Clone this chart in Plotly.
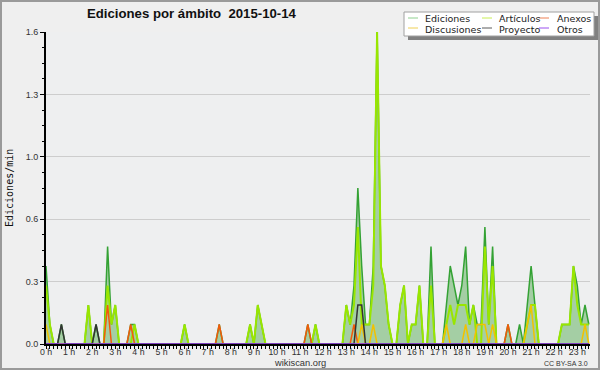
import plotly.graph_objects as go

# ---- data: edits per 10-minute bin, one row per hour (00:00 .. 23:30) ----
STEP_MIN = 10
ediciones_bins = [
    [4, 1, 0, 0, 1, 0], [0, 0, 0, 0, 0, 2], [0, 1, 0, 0, 5, 1], [2, 0, 0, 0, 1, 1],
    [0, 0, 0, 0, 0, 0], [0, 0, 0, 0, 0, 0], [1, 0, 0, 0, 0, 0], [0, 0, 0, 1, 0, 0],
    [0, 0, 0, 0, 0, 1], [0, 2, 1, 0, 0, 0], [0, 0, 0, 0, 0, 0], [0, 0, 1, 0, 1, 0],
    [0, 0, 0, 0, 0, 0], [2, 1, 3, 8, 4, 1], [1, 4, 16, 4, 3, 1], [0, 0, 2, 3, 0, 1],
    [1, 3, 0, 0, 5, 0], [0, 0, 2, 4, 3, 2], [3, 5, 1, 2, 1, 1], [6, 1, 5, 0, 0, 0],
    [1, 0, 0, 1, 0, 2], [4, 2, 0, 0, 0, 0], [0, 0, 1, 1, 1, 4], [3, 1, 2, 1],
]
articulos_bins = [
    [3, 1, 0, 0, 0, 0], [0, 0, 0, 0, 0, 2], [0, 0, 0, 0, 3, 1], [2, 0, 0, 0, 0, 1],
    [0, 0, 0, 0, 0, 0], [0, 0, 0, 0, 0, 0], [1, 0, 0, 0, 0, 0], [0, 0, 0, 0, 0, 0],
    [0, 0, 0, 0, 0, 1], [0, 2, 1, 0, 0, 0], [0, 0, 0, 0, 0, 0], [0, 0, 0, 0, 1, 0],
    [0, 0, 0, 0, 0, 0], [2, 1, 2, 6, 1, 1], [1, 3, 16, 4, 3, 1], [0, 0, 2, 3, 0, 1],
    [1, 3, 0, 0, 3, 0], [0, 0, 1, 2, 1, 2], [2, 2, 1, 2, 0, 0], [5, 1, 4, 0, 0, 0],
    [0, 0, 0, 0, 0, 1], [2, 2, 0, 0, 0, 0], [0, 0, 1, 1, 1, 4], [2, 1, 1, 1],
]
anexos_bins = [
    [0, 0, 0, 0, 0, 0], [0, 0, 0, 0, 0, 0], [0, 0, 0, 0, 2, 0], [0, 0, 0, 0, 1, 0],
    [0, 0, 0, 0, 0, 0], [0, 0, 0, 0, 0, 0], [0, 0, 0, 0, 0, 0], [0, 0, 0, 1, 0, 0],
    [0, 0, 0, 0, 0, 0], [0, 0, 0, 0, 0, 0], [0, 0, 0, 0, 0, 0], [0, 0, 1, 0, 0, 0],
    [0, 0, 0, 0, 0, 0], [0, 0, 1, 0, 0, 0], [0, 0, 0, 0, 0, 0], [0, 0, 0, 0, 0, 0],
    [0, 0, 0, 0, 0, 0], [0, 0, 0, 0, 0, 0], [0, 0, 0, 0, 0, 0], [0, 0, 0, 0, 0, 0],
    [1, 0, 0, 0, 0, 0], [0, 0, 0, 0, 0, 0], [0, 0, 0, 0, 0, 0], [0, 0, 0, 0],
]
discusiones_bins = [
    [1, 0, 0, 0, 0, 0], [0, 0, 0, 0, 0, 0], [0, 0, 0, 0, 0, 0], [0, 0, 0, 0, 0, 0],
    [0, 0, 0, 0, 0, 0], [0, 0, 0, 0, 0, 0], [0, 0, 0, 0, 0, 0], [0, 0, 0, 0, 0, 0],
    [0, 0, 0, 0, 0, 0], [0, 0, 0, 0, 0, 0], [0, 0, 0, 0, 0, 0], [0, 0, 0, 0, 0, 0],
    [0, 0, 0, 0, 0, 0], [0, 0, 0, 0, 1, 0], [0, 1, 0, 0, 0, 0], [0, 0, 0, 0, 0, 0],
    [0, 0, 0, 0, 0, 0], [0, 0, 1, 0, 0, 0], [0, 1, 0, 0, 1, 1], [1, 0, 1, 0, 0, 0],
    [0, 0, 0, 0, 0, 1], [2, 0, 0, 0, 0, 0], [0, 0, 0, 0, 0, 0], [0, 0, 1, 0],
]
proyecto_bins = [
    [0, 0, 0, 0, 1, 0], [0, 0, 0, 0, 0, 0], [0, 1, 0, 0, 0, 0], [0, 0, 0, 0, 0, 0],
    [0, 0, 0, 0, 0, 0], [0, 0, 0, 0, 0, 0], [0, 0, 0, 0, 0, 0], [0, 0, 0, 0, 0, 0],
    [0, 0, 0, 0, 0, 0], [0, 0, 0, 0, 0, 0], [0, 0, 0, 0, 0, 0], [0, 0, 0, 0, 0, 0],
    [0, 0, 0, 0, 0, 0], [0, 0, 0, 2, 2, 0], [0, 0, 0, 0, 0, 0], [0, 0, 0, 0, 0, 0],
    [0, 0, 0, 0, 0, 0], [0, 0, 0, 0, 0, 0], [0, 0, 0, 0, 0, 0], [0, 0, 0, 0, 0, 0],
    [0, 0, 0, 0, 0, 0], [0, 0, 0, 0, 0, 0], [0, 0, 0, 0, 0, 0], [0, 0, 0, 0],
]
otros_bins = [[0] * 6 for _ in range(23)] + [[0, 0, 0, 0]]

series_names = ["Ediciones", "Artículos", "Anexos", "Discusiones", "Proyecto", "Otros"]
line_colors = ["#34a234", "#99e600", "#f25a0a", "#f2c200", "#333333", "#8a3cf0"]
legend_colors = ["#8fd08f", "#c8ee55", "#ee8055", "#efd055", "#5a5a5a", "#9a50ee"]
y_tickvals = [0, 0.32, 0.64, 0.96, 1.28, 1.6]
y_ticktext = ["0.0", "0.3", "0.6", "1.0", "1.3", "1.6"]

def flat(rows):
    return [v for r in rows for v in r]

series_bins = [ediciones_bins, articulos_bins, anexos_bins,
               discusiones_bins, proyecto_bins, otros_bins]
series_rates = [[c / STEP_MIN for c in flat(s)] for s in series_bins]
n = len(series_rates[0])
x_hours = [i * STEP_MIN / 60 for i in range(n)]

W, H = 600, 370
L, R, T, B = 46, 10, 32, 26
PW, PH = W - L - R, H - T - B

def px(x):
    return (x - L) / PW

def py(y):
    return (H - B - y) / PH

fig = go.Figure()
for i, (name, ys) in enumerate(zip(series_names, series_rates)):
    kw = {}
    if i == 0:
        kw = dict(fill="tozeroy", fillcolor="rgba(150,200,150,0.85)")
    width = 2 if i == 1 else 1.5
    fig.add_trace(go.Scatter(
        x=x_hours, y=ys, mode="lines", name=name,
        line=dict(color=line_colors[i], width=width),
        showlegend=False, hoverinfo="skip", **kw))

fig.update_layout(
    width=W, height=H,
    margin=dict(l=L, r=R, t=T, b=B),
    paper_bgcolor="#efefef", plot_bgcolor="#eeeff0",
    font=dict(family="Liberation Sans, Arial, sans-serif", size=9, color="#333333"),
    xaxis=dict(
        range=[0, (n - 1) * STEP_MIN / 60 + 0.05],
        tick0=0, dtick=1, ticksuffix=" h",
        showline=True, linecolor="black", linewidth=2,
        ticks="outside", ticklen=3, tickcolor="black", tickwidth=1,
        showgrid=False, zeroline=False, ticklabelstandoff=-5,
        tickfont=dict(size=8.8, color="#333333"),
        minor=dict(dtick=STEP_MIN / 60, ticks="outside", ticklen=3,
                   tickcolor="black", tickwidth=1, showgrid=False),
    ),
    yaxis=dict(
        range=[0, 1.6],
        tickmode="array", tickvals=y_tickvals, ticktext=y_ticktext,
        showline=True, linecolor="black", linewidth=2,
        ticks="outside", ticklen=4, tickcolor="black", tickwidth=1,
        showgrid=True, gridcolor="#cdcdcd", gridwidth=1, zeroline=False,
        tickfont=dict(size=9, color="#333333"),
        minor=dict(tickvals=[k * 0.08 for k in range(21)], ticks="outside",
                   ticklen=2, tickcolor="black", tickwidth=1, showgrid=False),
    ),
)

shapes = []
annotations = []

# frame around the image
shapes.append(dict(type="rect", xref="paper", yref="paper",
                   x0=px(1), x1=px(599), y0=py(369), y1=py(1),
                   line=dict(color="#9a9a9a", width=2), fillcolor="rgba(0,0,0,0)",
                   layer="above"))

# legend box with shadow
lx0, lx1, ly0, ly1 = 404, 594, 12, 36
shapes.append(dict(type="rect", xref="paper", yref="paper",
                   x0=px(lx0 + 4), x1=px(lx1 + 4), y0=py(ly1 + 4), y1=py(ly0 + 4),
                   line=dict(width=0), fillcolor="#808080", layer="above"))
shapes.append(dict(type="rect", xref="paper", yref="paper",
                   x0=px(lx0), x1=px(lx1), y0=py(ly1), y1=py(ly0),
                   line=dict(color="#a0a0a0", width=1), fillcolor="white", layer="above"))
col_sample = [408, 482, 539]
col_text = [423, 497, 555]
row_y = [19, 29]
for i, name in enumerate(series_names):
    r, c = divmod(i, 3)
    shapes.append(dict(type="line", xref="paper", yref="paper",
                       x0=px(col_sample[c]), x1=px(col_sample[c] + 10),
                       y0=py(row_y[r] - 1), y1=py(row_y[r] - 1),
                       line=dict(color=legend_colors[i], width=1), layer="above"))
    annotations.append(dict(text=name, xref="paper", yref="paper",
                            x=px(col_text[c]), y=py(row_y[r]),
                            xanchor="left", yanchor="middle", showarrow=False,
                            font=dict(family="DejaVu Sans", size=9.5, color="#222222")))

# title
annotations.append(dict(text="<b>Ediciones por ámbito \u00a02015-10-14</b>",
                        xref="paper", yref="paper", x=px(85), y=py(14),
                        xanchor="left", yanchor="middle", showarrow=False,
                        font=dict(family="Liberation Sans", size=13.2, color="#111111")))
# y axis title
annotations.append(dict(text="Ediciones/min", xref="paper", yref="paper",
                        x=px(9), y=py(188), textangle=-90,
                        xanchor="center", yanchor="middle", showarrow=False,
                        font=dict(family="DejaVu Sans Mono", size=10, color="#111111")))
# credits
annotations.append(dict(text="wikiscan.org", xref="paper", yref="paper",
                        x=px(300), y=py(362.5), xanchor="center", yanchor="middle",
                        showarrow=False,
                        font=dict(family="Liberation Sans", size=9.3, color="#333333")))
annotations.append(dict(text="CC BY-SA 3.0", xref="paper", yref="paper",
                        x=px(590), y=py(363), xanchor="right", yanchor="middle",
                        showarrow=False,
                        font=dict(family="Liberation Sans", size=7, color="#333333")))

fig.update_layout(shapes=shapes, annotations=annotations)
fig.write_html("out.html", config={"displayModeBar": False},
               post_script="document.body.style.margin='0';document.body.style.padding='0';")
